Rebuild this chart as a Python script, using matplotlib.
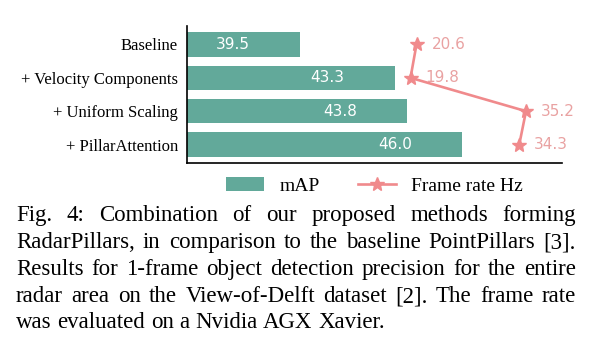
import matplotlib.pyplot as plt

# data
methods = ['Baseline', '+ Velocity Components', '+ Uniform Scaling',
           '+ PillarAttention']
map_vals = [39.5, 43.3, 43.8, 46.0]
frame_rate = [20.6, 19.8, 35.2, 34.3]

caption_lines = [
    'Fig. 4: Combination of our proposed methods forming',
    'RadarPillars, in comparison to the baseline PointPillars [3].',
    'Results for 1-frame object detection precision for the entire',
    'radar area on the View-of-Delft dataset [2]. The frame rate',
    'was evaluated on a Nvidia AGX Xavier.',
]

BAR_C = '#62a99a'
LINE_C = '#f08a8c'
TXT_C = '#e9a2a2'
SERIF = 'Liberation Serif'

fig = plt.figure(figsize=(5.98, 3.51), dpi=100)
ax = fig.add_axes([187 / 598, 1 - 163 / 351, 375 / 598, 137 / 351])

ypos = list(range(len(methods)))
ax.barh(ypos, map_vals, height=0.73, color=BAR_C, label='mAP')
ax.set_xlim(35, 50)
ax.set_yticks(ypos)
ax.set_yticklabels(methods, family=SERIF, fontsize=12)
ax.tick_params(axis='y', length=0, pad=6.5)
ax.tick_params(axis='x', length=0, labelbottom=False)
ax.invert_yaxis()
for s in ['top', 'right']:
    ax.spines[s].set_visible(False)
ax.spines['left'].set_linewidth(1.2)
ax.spines['bottom'].set_linewidth(1.2)
for y, v in zip(ypos, map_vals):
    ax.text(v - 2.0, y, '%.1f' % v, ha='right', va='center', color='white',
            fontsize=11)

ax2 = ax.twiny()
ax2.plot(frame_rate, ypos, color=LINE_C, lw=1.9, marker='*', ms=10,
         label='Frame rate Hz')
ax2.set_xlim(-10, 40)
ax2.tick_params(axis='x', length=0, labeltop=False)
for s in ax2.spines.values():
    s.set_visible(False)
for y, v in zip(ypos, frame_rate):
    ax2.text(v + 2.0, y, '%.1f' % v, ha='left', va='center', color=TXT_C,
             fontsize=11)

h1, l1 = ax.get_legend_handles_labels()
h2, l2 = ax2.get_legend_handles_labels()
fig.legend(h1 + h2, l1 + l2, loc='center',
           bbox_to_anchor=(374.5 / 598, 1 - 186 / 351),
           ncol=2, frameon=False, prop={'family': SERIF, 'size': 14},
           handlelength=1.95, columnspacing=1.95, handletextpad=0.8)

# justified caption
renderer = fig.canvas.get_renderer()
x_left, x_right = 16, 576
baselines = [221, 248, 275, 302, 328]
fsize = 16.5
for i, line in enumerate(caption_lines):
    words = line.split(' ')
    y = 1 - baselines[i] / 351
    texts = [fig.text(0, y, w, family=SERIF, fontsize=fsize, va='baseline')
             for w in words]
    widths = [t.get_window_extent(renderer).width for t in texts]
    if i < len(caption_lines) - 1:
        gap = (x_right - x_left - sum(widths)) / (len(words) - 1)
    else:
        gap = fsize * 100 / 72 * 0.25
    x = x_left
    for t, w in zip(texts, widths):
        t.set_x(x / 598)
        x += w + gap

fig.savefig('out.png', dpi=100)
